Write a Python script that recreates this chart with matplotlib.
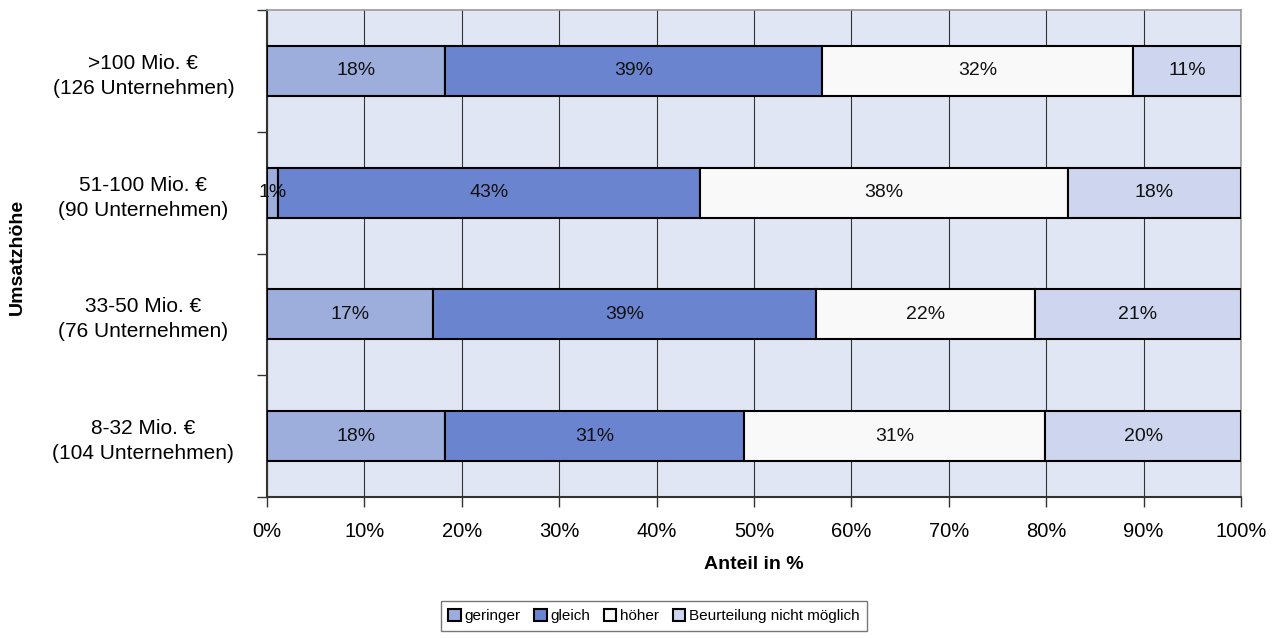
import matplotlib
matplotlib.use('Agg')
import matplotlib.pyplot as plt
import numpy as np
from matplotlib.ticker import MultipleLocator, PercentFormatter

plt.rcParams['font.family'] = ['Liberation Sans', 'DejaVu Sans']

# Data (percent shares)
categories = ['8-32 Mio. €\n(104 Unternehmen)',
              '33-50 Mio. €\n(76 Unternehmen)',
              '51-100 Mio. €\n(90 Unternehmen)',
              '>100 Mio. €\n(126 Unternehmen)']
series_names = ['geringer', 'gleich', 'höher', 'Beurteilung nicht möglich']
geringer = [18.3, 17.0, 1.1, 18.3]
gleich = [30.7, 39.4, 43.4, 38.7]
hoeher = [30.9, 22.4, 37.7, 31.9]
nicht_moeglich = [20.1, 21.2, 17.8, 11.1]
colors = ['#9DAEDD', '#6A84CF', '#F9F9F9', '#CED5EE']

series = [geringer, gleich, hoeher, nicht_moeglich]

fig = plt.figure(figsize=(12.74, 6.38), dpi=100)
ax = fig.add_axes([267/1274, 1 - 497/638, (1241-267)/1274, (497-10)/638])
ax.set_facecolor('#E0E6F4')

y = np.arange(len(categories))
left = np.zeros(len(categories))
for name, vals, col in zip(series_names, series, colors):
    vals = np.array(vals)
    bars = ax.barh(y, vals, left=left, height=0.41, color=col,
                   edgecolor='black', linewidth=1.5, label=name, zorder=3)
    for b, v in zip(bars, vals):
        ax.text(b.get_x() + b.get_width() / 2, b.get_y() + b.get_height() / 2,
                f'{v:.0f}%', ha='center', va='center', fontsize=14,
                color='#111111', zorder=4)
    left += vals

ax.set_xlim(0, 100)
ax.set_ylim(-0.5, len(categories) - 0.5)
ax.xaxis.set_major_locator(MultipleLocator(10))
ax.xaxis.set_major_formatter(PercentFormatter(decimals=0))
ax.grid(axis='x', color='#333333', linewidth=0.8, zorder=1)

# category labels between boundary ticks
ax.set_yticks(np.arange(-0.5, len(categories)), minor=False)
ax.set_yticklabels([])
ax.set_yticks(y, minor=True)
ax.set_yticklabels(categories, minor=True, fontsize=15, ha='center',
                   linespacing=1.4)
ax.tick_params(axis='y', which='minor', length=0, pad=89)
ax.tick_params(axis='y', which='major', length=7, width=1, color='#333333')
ax.tick_params(axis='x', length=7, width=1, color='#333333', labelsize=14.5, pad=11)

for s in ['top', 'right']:
    ax.spines[s].set_color('#999999')
    ax.spines[s].set_linewidth(1.2)
for s in ['left', 'bottom']:
    ax.spines[s].set_color('#333333')
    ax.spines[s].set_linewidth(1.5)

ax.set_xlabel('Anteil in %', fontsize=14, fontweight='bold', labelpad=11)
fig.text(17/1274, 1 - 257/638, 'Umsatzhöhe', rotation=90, fontsize=14,
         fontweight='bold', ha='center', va='center')

leg = fig.legend(loc='center', bbox_to_anchor=(654/1274, 1 - 616/638), ncol=4,
                 frameon=True, fancybox=False, edgecolor='#555555',
                 fontsize=11, handlelength=0.8, handleheight=0.8,
                 handletextpad=0.25, columnspacing=0.9, borderpad=0.5)
leg.get_frame().set_linewidth(1)

fig.savefig('out.png', dpi=100)
